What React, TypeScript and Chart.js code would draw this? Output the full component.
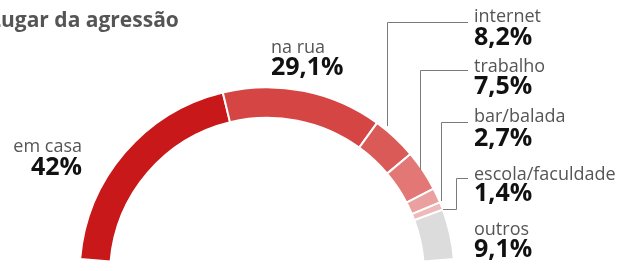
import React, { useEffect, useRef } from "react";
import { Chart, registerables } from "chart.js";

Chart.register(...registerables);

const title = "Lugar da agressão";
const categories = ["em casa", "na rua", "internet", "trabalho", "bar/balada", "escola/faculdade", "outros"];
const values = [42, 29.1, 8.2, 7.5, 2.7, 1.4, 9.1];
const valueLabels = ["42%", "29,1%", "8,2%", "7,5%", "2,7%", "1,4%", "9,1%"];
const colors = ["#c8181a", "#d44543", "#da5a58", "#e27776", "#eaa09f", "#f0b9b9", "#dcdcdc"];

const W = 626;
const H = 271;
const CX = 267;
const CY = 274.7;
const R = 187.5;
const RIN = 157;
const END_DEG = 4.8;

const FONT = '"Open Sans", "Noto Sans", sans-serif';

// text layout (label positions)
const labelLayout = [
  { x: 82, y1: 152, y2: 175, align: "right" },
  { x: 271, y1: 53, y2: 75, align: "left" },
  { x: 474, y1: 22, y2: 45, align: "left" },
  { x: 474, y1: 72, y2: 94, align: "left" },
  { x: 474, y1: 122, y2: 146, align: "left" },
  { x: 474, y1: 180, y2: 201, align: "left" },
  { x: 474, y1: 235, y2: 257, align: "left" },
];

const connectors: (number[][] | null)[] = [
  null,
  null,
  [[468, 22.5], [387.5, 22.5], [387.5, 126]],
  [[468, 70.5], [420.5, 70.5], [420.5, 170]],
  [[468, 122.5], [441.5, 122.5], [441.5, 201]],
  [[468, 178.5], [456.5, 178.5], [456.5, 209.5], [443, 209.5]],
  null,
];

const labelPlugin = {
  id: "labels",
  afterDraw(chart: any) {
    const ctx = chart.ctx as CanvasRenderingContext2D;
    ctx.save();
    // title, first letter cut by left edge
    ctx.font = `bold 21px ${FONT}`;
    ctx.fillStyle = "#555555";
    ctx.textAlign = "left";
    ctx.textBaseline = "alphabetic";
    const lw = ctx.measureText(title[0]).width;
    ctx.fillText(title, 1 - lw, 27);

    // connectors
    ctx.strokeStyle = "#7a7a7a";
    ctx.lineWidth = 1;
    connectors.forEach((pts) => {
      if (!pts) return;
      ctx.beginPath();
      pts.forEach((p, i) => (i === 0 ? ctx.moveTo(p[0], p[1]) : ctx.lineTo(p[0], p[1])));
      ctx.stroke();
    });

    categories.forEach((c, i) => {
      const l = labelLayout[i];
      ctx.textAlign = l.align as CanvasTextAlign;
      ctx.font = `18px ${FONT}`;
      ctx.fillStyle = "#555555";
      ctx.fillText(c, l.x, l.y1);
      ctx.font = `bold 25px ${FONT}`;
      ctx.fillStyle = "#111111";
      ctx.fillText(valueLabels[i], l.x, l.y2);
    });
    ctx.restore();
  },
};

export default function App() {
  const ref = useRef<HTMLCanvasElement | null>(null);
  useEffect(() => {
    if (!ref.current) return;
    const cut = RIN / R;
    const s = Math.sin((END_DEG * Math.PI) / 180);
    const offY = (1 + s * cut) / 2;
    const areaCenterY = CY - offY * R;
    const padTop = 2 * areaCenterY - H;
    const chart = new Chart(ref.current, {
      type: "doughnut",
      data: {
        labels: categories,
        datasets: [
          {
            data: values,
            backgroundColor: colors,
            borderColor: "#ffffff",
            borderWidth: 2,
            radius: R,
            cutout: `${cut * 100}%`,
          } as any,
        ],
      },
      options: {
        animation: false,
        responsive: true,
        maintainAspectRatio: false,
        rotation: -90 + END_DEG,
        circumference: 180 - 2 * END_DEG,
        layout: { padding: { top: padTop, bottom: 0, left: 0, right: W - 2 * CX } },
        plugins: { legend: { display: false }, tooltip: { enabled: false } },
      } as any,
      plugins: [labelPlugin],
    });
    if ((document as any).fonts) {
      (document as any).fonts.load(`bold 25px "Open Sans"`).then(() => chart.draw());
      (document as any).fonts.load(`18px "Open Sans"`).then(() => chart.draw());
    }
    return () => chart.destroy();
  }, []);
  return (
    <div style={{ position: "fixed", left: 0, top: 0, width: W, height: H, background: "#ffffff" }}>
      <canvas ref={ref} />
    </div>
  );
}
